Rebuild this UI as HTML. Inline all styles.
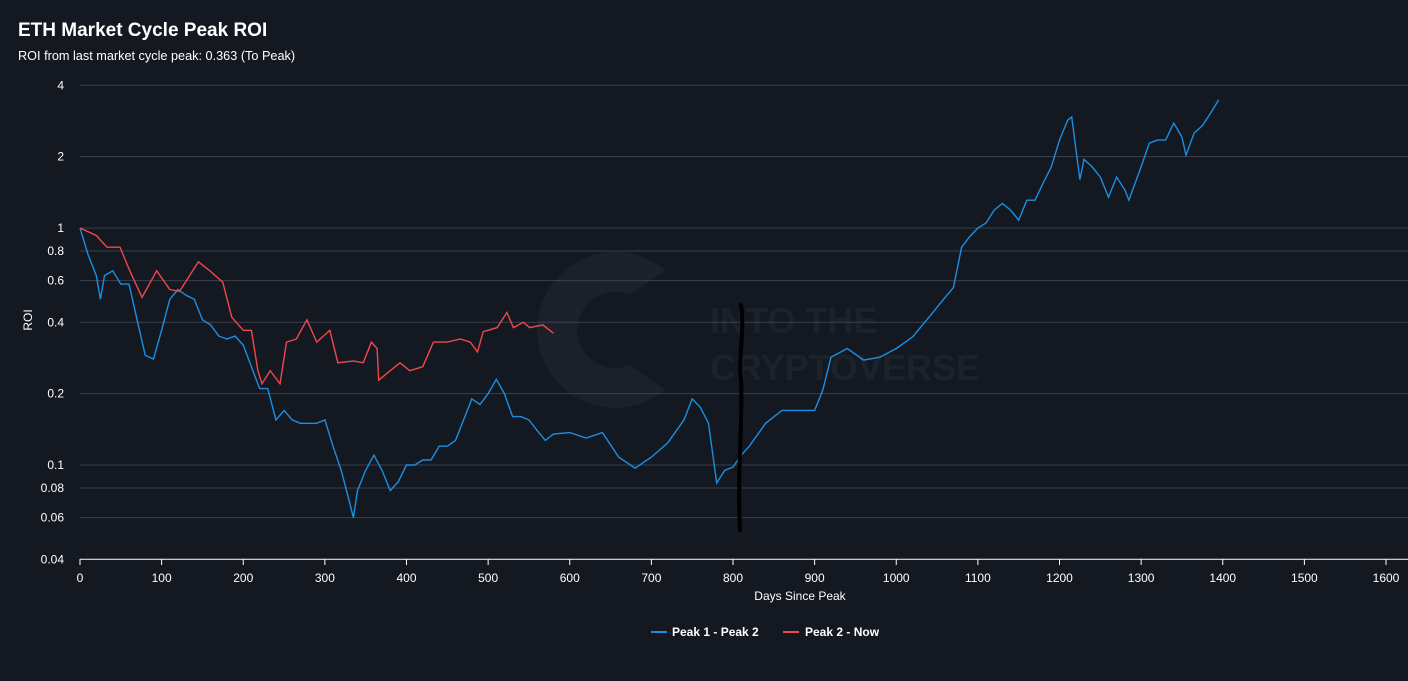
<!DOCTYPE html>
<html><head><meta charset="utf-8"><style>
body{margin:0;background:#131821;width:1408px;height:676px;overflow:hidden;font-family:"Liberation Sans",sans-serif}
</style></head><body>
<svg width="1408" height="676" xmlns="http://www.w3.org/2000/svg">
<rect width="1408" height="676" fill="#131821"/>
<text x="18" y="36" fill="#ffffff" font-size="19" font-weight="bold">ETH Market Cycle Peak ROI</text>
<text x="18" y="60" fill="#ffffff" font-size="12.7">ROI from last market cycle peak: 0.363 (To Peak)</text>
<g opacity="0.04">
<path d="M665,270 A78,78 0 1 0 665,390 L630,365 A38,38 0 1 1 630,295 Z" fill="#ffffff"/>
<text x="710" y="333" fill="#ffffff" font-size="36" font-weight="bold">INTO THE</text>
<text x="710" y="380" fill="#ffffff" font-size="36" font-weight="bold">CRYPTOVERSE</text>
</g>
<g id="grid"></g>
<g id="xaxis"></g>
<g id="series"></g>
<path d="M741,305 C745,330 738,360 741,380 C743,420 737,470 740,530" stroke="#000" stroke-width="4" fill="none" stroke-linecap="round"/>
<text transform="translate(32,320) rotate(-90)" text-anchor="middle" fill="#fff" font-size="12">ROI</text>
<text x="800" y="600" text-anchor="middle" fill="#fff" font-size="12">Days Since Peak</text>
<g><line x1="651" y1="632" x2="667" y2="632" stroke="#1a8fe3" stroke-width="2"/><text x="672" y="636" fill="#fff" font-size="12" font-weight="bold">Peak 1 - Peak 2</text></g>
<g><line x1="783" y1="632" x2="799" y2="632" stroke="#f0474c" stroke-width="2"/><text x="805" y="636" fill="#fff" font-size="12" font-weight="bold">Peak 2 - Now</text></g>
</svg>
<script>
const yTicks=[4,2,1,0.8,0.6,0.4,0.2,0.1,0.08,0.06,0.04];
const xTicks=[0,100,200,300,400,500,600,700,800,900,1000,1100,1200,1300,1400,1500,1600];
const blueDays=[0,10,20,25,30,40,50,60,70,80,90,100,110,120,130,140,150,160,170,180,190,200,210,220,230,240,250,260,270,280,290,300,310,320,330,335,340,350,360,370,380,390,400,410,420,430,440,450,460,470,480,490,500,510,520,530,540,550,560,570,580,600,620,640,660,680,700,720,740,750,760,770,780,790,800,810,820,840,860,880,900,910,920,940,960,980,1000,1020,1040,1060,1070,1080,1090,1100,1110,1120,1130,1140,1150,1160,1170,1180,1190,1200,1210,1215,1225,1230,1240,1250,1260,1270,1280,1285,1300,1310,1320,1330,1340,1350,1355,1365,1375,1385,1395];
const blueVals=[1,0.77,0.63,0.5,0.63,0.66,0.58,0.58,0.41,0.29,0.28,0.37,0.5,0.55,0.52,0.5,0.41,0.39,0.35,0.34,0.35,0.32,0.26,0.21,0.21,0.155,0.17,0.155,0.15,0.15,0.15,0.155,0.12,0.095,0.07,0.06,0.078,0.095,0.11,0.095,0.078,0.085,0.1,0.1,0.105,0.105,0.12,0.12,0.127,0.155,0.19,0.18,0.2,0.23,0.2,0.16,0.16,0.155,0.14,0.127,0.135,0.137,0.13,0.137,0.108,0.097,0.108,0.124,0.155,0.19,0.175,0.15,0.084,0.095,0.098,0.11,0.12,0.15,0.17,0.17,0.17,0.207,0.285,0.31,0.277,0.285,0.31,0.347,0.42,0.51,0.56,0.83,0.92,1.0,1.05,1.19,1.27,1.19,1.08,1.31,1.31,1.55,1.81,2.35,2.85,2.94,1.6,1.95,1.81,1.64,1.35,1.64,1.45,1.31,1.81,2.28,2.35,2.35,2.77,2.42,2.03,2.52,2.7,3.05,3.47];
const redDays=[0,20,33,49,61,76,94,110,122,145,159,175,186,200,210,218,223,233,245,253,265,278,290,306,316,335,347,357,364,366,380,392,404,420,433,450,466,478,487,494,511,523,531,543,551,567,580];
const redVals=[1,0.93,0.83,0.83,0.66,0.51,0.66,0.55,0.54,0.72,0.66,0.59,0.42,0.37,0.37,0.25,0.22,0.25,0.22,0.33,0.34,0.41,0.33,0.37,0.27,0.275,0.27,0.33,0.31,0.228,0.25,0.27,0.25,0.26,0.33,0.33,0.34,0.33,0.3,0.365,0.38,0.44,0.38,0.4,0.38,0.39,0.36];
const X=d=>80+d*(1306/1600);
const Y=v=>228-Math.log10(v)*237;
const NS="http://www.w3.org/2000/svg";
const grid=document.getElementById('grid');
yTicks.forEach(t=>{
  const l=document.createElementNS(NS,'line');
  
  
  l.setAttribute('x1',80);l.setAttribute('x2',1408);l.setAttribute('y1',Y(t));l.setAttribute('y2',Y(t));
  l.setAttribute('stroke',t===0.04?'#ffffff':'#3a404c');l.setAttribute('stroke-width',1);
  grid.appendChild(l);
  const tx=document.createElementNS(NS,'text');
  
  
  tx.setAttribute('x',64);tx.setAttribute('y',Y(t)+4);tx.setAttribute('text-anchor','end');
  tx.setAttribute('fill','#fff');tx.setAttribute('font-size','12');tx.textContent=String(t);
  grid.appendChild(tx);
});
const xa=document.getElementById('xaxis');
xTicks.forEach(t=>{
  const l=document.createElementNS(NS,'line');
  
  
  l.setAttribute('x1',X(t));l.setAttribute('x2',X(t));l.setAttribute('y1',559);l.setAttribute('y2',565);
  l.setAttribute('stroke','#fff');xa.appendChild(l);
  const tx=document.createElementNS(NS,'text');
  
  
  tx.setAttribute('x',X(t));tx.setAttribute('y',582);tx.setAttribute('text-anchor','middle');
  tx.setAttribute('fill','#fff');tx.setAttribute('font-size','12');tx.textContent=String(t);
  xa.appendChild(tx);
});
function drawLine(days,vals,color,name){
  const p=document.createElementNS(NS,'path');
  
  
  p.setAttribute('d',days.map((d,i)=>(i?'L':'M')+X(d).toFixed(1)+','+Y(vals[i]).toFixed(1)).join(''));
  p.setAttribute('fill','none');p.setAttribute('stroke',color);p.setAttribute('stroke-width','1.4');
  document.getElementById('series').appendChild(p);
}
drawLine(blueDays,blueVals,'#1a8fe3','series-peak1-peak2');
drawLine(redDays,redVals,'#f0474c','series-peak2-now');
</script>
</body></html>
